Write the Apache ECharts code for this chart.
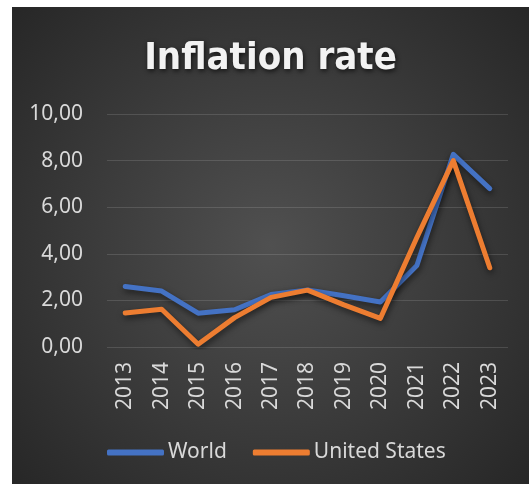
<!DOCTYPE html>
<html>
<head>
<meta charset="utf-8">
<script src="https://cdn.jsdelivr.net/npm/echarts@6/dist/echarts.min.js"></script>
<style>
html,body{margin:0;padding:0;background:#ffffff;}
#chart{position:absolute;left:12px;top:7px;width:517px;height:477px;}
</style>
</head>
<body>
<div id="chart"></div>
<script>
const titleText = 'Inflation rate';
const years = ['2013','2014','2015','2016','2017','2018','2019','2020','2021','2022','2023'];
const worldValues = [2.6, 2.4, 1.45, 1.6, 2.25, 2.45, 2.2, 1.93, 3.5, 8.27, 6.8];
const usValues = [1.46, 1.62, 0.12, 1.26, 2.13, 2.44, 1.81, 1.23, 4.7, 8.0, 3.4];
const seriesNames = ['World', 'United States'];
const colors = ['#4472C4', '#ED7D31'];

const chart = echarts.init(document.getElementById('chart'), null, {renderer: 'canvas'});
const labelColor = '#d9d9d9';
const font = '"Noto Sans", "Liberation Sans", sans-serif';
const lineShadow = {shadowColor: 'rgba(0,0,0,0.55)', shadowBlur: 6, shadowOffsetX: 1, shadowOffsetY: 3};

chart.setOption({
  backgroundColor: {
    type: 'radial', x: 0.5, y: 0.5, r: 0.75,
    colorStops: [{offset: 0, color: '#505050'}, {offset: 1, color: '#262626'}]
  },
  animation: false,
  color: colors,
  title: {
    text: titleText,
    left: 'center',
    top: 28,
    textStyle: {
      color: '#f2f2f2',
      fontSize: 38,
      fontWeight: 'bold',
      fontFamily: '"DejaVu Sans Condensed", "Lato", sans-serif',
      textShadowColor: 'rgba(0,0,0,0.7)',
      textShadowBlur: 5,
      textShadowOffsetX: 1,
      textShadowOffsetY: 2
    }
  },
  grid: {left: 95, right: 21, top: 107, bottom: 137, containLabel: false},
  xAxis: {
    type: 'category',
    data: years,
    boundaryGap: true,
    axisLine: {show: false},
    axisTick: {show: false},
    axisLabel: {rotate: 90, color: labelColor, fontSize: 21, fontFamily: font, margin: 15}
  },
  yAxis: {
    type: 'value',
    min: 0, max: 10, interval: 2,
    axisLine: {show: false},
    axisTick: {show: false},
    splitLine: {lineStyle: {color: 'rgba(255,255,255,0.13)', width: 1.2}},
    axisLabel: {
      color: labelColor, fontSize: 21, fontFamily: font, margin: 24,
      formatter: v => v.toFixed(2).replace('.', ',')
    }
  },
  legend: {
    data: seriesNames,
    left: 95,
    top: 435,
    padding: 0,
    icon: 'roundRect',
    itemWidth: 57,
    itemHeight: 6,
    itemGap: 26,
    textStyle: {color: labelColor, fontSize: 21, fontFamily: font, padding: [0, 0, 0, -1]}
  },
  series: [
    {
      name: seriesNames[0], type: 'line', data: worldValues,
      symbol: 'none', lineStyle: Object.assign({width: 5, color: colors[0], cap: 'round', join: 'round'}, lineShadow)
    },
    {
      name: seriesNames[1], type: 'line', data: usValues,
      symbol: 'none', lineStyle: Object.assign({width: 5, color: colors[1], cap: 'round', join: 'round'}, lineShadow)
    }
  ]
});
</script>
</body>
</html>
